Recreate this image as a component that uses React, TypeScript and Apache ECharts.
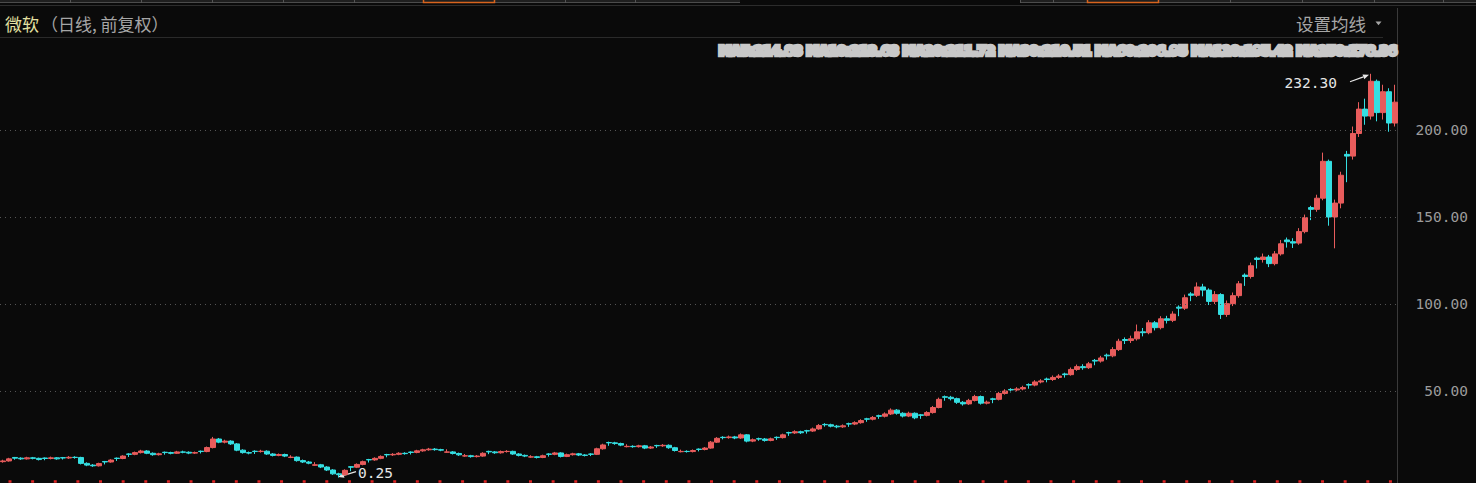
import React, { useEffect, useRef } from "react";
import * as echarts from "echarts";

const candles: number[][] = [
  [9.4, 9.8, 8.8, 10.5], [9.8, 11.0, 9.4, 11.6], [11.8, 11.4, 10.5, 12.1], [11.4, 11.0, 10.4, 11.9], [11.0, 11.6, 10.6, 12.2],
  [11.6, 11.3, 10.7, 12.1], [11.3, 10.6, 10.1, 11.7], [11.5, 11.2, 10.2, 11.8], [11.2, 11.6, 10.7, 12.3], [11.6, 11.0, 10.5, 12.0],
  [11.7, 11.5, 10.6, 12.1], [11.5, 11.9, 11.0, 12.6], [11.9, 11.8, 11.1, 12.5], [11.8, 8.4, 7.8, 12.2], [8.4, 7.4, 6.8, 9.0],
  [7.4, 7.0, 6.4, 8.0], [7.0, 8.3, 6.6, 8.8], [9.5, 9.2, 7.8, 9.8], [9.2, 10.3, 8.8, 10.8], [11.4, 11.2, 9.8, 11.8],
  [11.2, 12.6, 10.8, 13.1], [13.8, 13.6, 12.1, 14.2], [13.6, 14.6, 13.1, 15.2], [14.6, 15.5, 14.1, 16.2], [15.5, 14.2, 13.7, 16.0],
  [14.2, 13.4, 12.8, 14.7], [13.4, 13.9, 12.9, 14.5], [14.8, 14.6, 13.4, 15.2], [14.6, 14.2, 13.6, 15.1], [14.2, 15.0, 13.8, 15.6],
  [15.0, 14.8, 14.2, 15.7], [14.8, 14.3, 13.7, 15.3], [14.3, 14.6, 13.8, 15.2], [15.4, 15.2, 14.1, 15.8], [15.2, 17.5, 14.8, 18.1],
  [17.5, 22.4, 17.0, 23.6], [22.4, 20.6, 20.0, 23.0], [20.6, 21.2, 19.9, 22.0], [21.2, 19.6, 19.0, 21.7], [19.6, 16.0, 15.4, 20.1],
  [16.0, 14.6, 14.0, 16.5], [14.6, 14.3, 13.6, 15.2], [15.4, 15.2, 13.8, 15.9], [15.2, 15.4, 14.6, 16.2], [15.4, 13.8, 13.3, 15.9],
  [13.8, 13.0, 12.4, 14.3], [13.0, 13.5, 12.5, 14.1], [13.5, 12.6, 12.0, 14.0], [11.8, 12.0, 11.4, 13.1], [12.0, 10.0, 9.4, 12.4],
  [10.0, 9.2, 8.6, 10.6], [9.2, 8.5, 7.9, 9.8], [7.3, 7.6, 7.0, 9.1], [7.6, 6.3, 5.7, 8.1], [6.3, 4.6, 4.0, 6.8],
  [4.6, 2.4, 1.8, 5.1], [2.4, 1.9, 0.25, 3.0], [1.9, 4.4, 1.4, 5.0], [6.5, 6.2, 3.9, 6.8], [6.2, 7.8, 5.7, 8.4],
  [7.8, 9.4, 7.3, 10.0], [10.6, 10.4, 8.9, 11.0], [10.4, 11.3, 9.9, 11.9], [11.3, 12.4, 10.8, 13.0], [13.5, 13.3, 11.9, 13.9],
  [13.3, 13.6, 12.7, 14.3], [13.6, 14.2, 13.1, 14.8], [14.2, 14.0, 13.4, 14.8], [14.9, 14.7, 13.5, 15.3], [14.7, 15.6, 14.2, 16.2],
  [15.6, 16.2, 15.1, 16.8], [16.2, 16.6, 15.7, 17.3], [16.6, 16.3, 15.7, 17.2], [16.3, 16.0, 15.4, 16.8], [14.8, 15.0, 14.5, 16.5],
  [15.0, 14.1, 13.5, 15.5], [14.1, 13.3, 12.7, 14.6], [12.6, 12.8, 12.2, 13.8], [12.8, 12.3, 11.7, 13.3], [12.3, 12.6, 11.8, 13.2],
  [12.6, 14.2, 12.2, 14.8], [15.3, 15.0, 13.7, 15.7], [15.0, 14.5, 13.9, 15.5], [14.5, 15.2, 14.0, 15.8], [15.2, 15.3, 14.6, 16.0],
  [15.3, 13.8, 13.3, 15.7], [13.8, 13.0, 12.4, 14.3], [13.0, 12.6, 12.0, 13.5], [12.0, 12.2, 11.6, 13.1], [12.2, 11.8, 11.2, 12.7],
  [11.8, 12.8, 11.4, 13.4], [13.8, 13.6, 12.3, 14.2], [13.6, 14.4, 13.1, 15.0], [14.4, 12.4, 11.8, 14.8], [12.4, 13.4, 12.0, 14.0],
  [13.4, 13.9, 12.9, 14.5], [13.9, 13.2, 12.6, 14.4], [13.2, 13.0, 12.4, 13.7], [13.8, 13.6, 12.6, 14.2], [13.6, 16.8, 13.2, 17.4],
  [16.8, 19.0, 16.3, 19.7], [20.4, 20.2, 18.5, 20.9], [20.2, 19.8, 19.1, 20.8], [19.8, 18.9, 18.3, 20.3], [18.0, 18.2, 17.6, 19.4],
  [18.2, 18.0, 17.4, 18.8], [18.0, 18.5, 17.5, 19.1], [18.5, 17.2, 16.6, 19.0], [17.2, 17.8, 16.7, 18.4], [18.7, 18.5, 17.3, 19.1],
  [18.5, 18.8, 17.9, 19.5], [18.8, 17.4, 16.8, 19.3], [17.4, 15.8, 15.2, 17.9], [15.1, 15.3, 14.7, 16.3], [15.3, 15.2, 14.6, 15.9],
  [15.2, 15.8, 14.7, 16.4], [16.6, 16.4, 15.3, 17.0], [16.4, 17.2, 15.9, 17.8], [17.2, 20.6, 16.8, 21.3], [20.6, 22.8, 20.1, 23.5],
  [23.4, 23.2, 22.2, 24.0], [23.2, 23.6, 22.6, 24.4], [23.6, 23.0, 22.3, 24.2], [23.0, 24.8, 22.5, 25.6], [24.8, 21.2, 20.5, 25.2],
  [21.2, 22.0, 20.6, 22.7], [22.6, 22.4, 21.4, 23.2], [22.4, 21.6, 20.9, 23.0], [21.6, 22.5, 21.1, 23.2], [23.4, 23.2, 21.9, 23.9],
  [23.2, 24.8, 22.7, 25.5], [26.1, 25.9, 24.2, 26.6], [25.9, 26.6, 25.3, 27.4], [26.6, 26.0, 25.3, 27.2], [27.2, 27.0, 25.5, 27.7],
  [27.0, 28.2, 26.5, 29.0], [28.2, 30.2, 27.7, 31.0], [30.8, 30.6, 29.5, 31.5], [30.6, 29.8, 29.1, 31.2], [29.8, 29.4, 28.6, 30.5],
  [29.4, 30.0, 28.8, 30.8], [31.2, 31.0, 29.4, 31.8], [31.0, 31.8, 30.4, 32.6], [31.8, 33.0, 31.2, 33.8], [34.0, 33.8, 32.3, 34.6],
  [33.8, 34.8, 33.1, 35.6], [35.8, 35.5, 34.0, 36.4], [35.5, 36.8, 34.8, 37.7], [36.8, 39.0, 36.2, 40.0], [39.0, 37.2, 36.4, 39.6],
  [37.2, 35.6, 34.8, 37.8], [35.6, 37.2, 35.0, 38.1], [37.2, 34.6, 33.8, 37.7], [36.3, 36.0, 34.0, 36.8], [36.0, 37.6, 35.4, 38.4],
  [37.6, 40.5, 37.0, 41.4], [40.5, 45.2, 40.0, 46.2], [46.7, 46.4, 44.4, 47.4], [46.4, 45.6, 44.6, 47.2], [45.6, 43.5, 42.6, 46.2],
  [43.5, 42.6, 41.6, 44.2], [42.6, 44.6, 42.0, 45.5], [44.6, 46.8, 44.0, 47.8], [46.8, 43.0, 42.2, 47.4], [43.0, 43.6, 42.3, 44.5],
  [45.5, 45.2, 43.0, 46.1], [45.2, 48.6, 44.6, 49.5], [48.6, 50.0, 47.9, 51.0], [50.9, 50.6, 49.2, 51.6], [50.6, 51.2, 49.8, 52.2],
  [51.2, 52.0, 50.4, 53.0], [53.7, 53.4, 51.3, 54.4], [53.4, 55.2, 52.7, 56.2], [55.2, 55.8, 54.4, 56.8], [56.9, 56.6, 55.0, 57.7],
  [56.6, 57.8, 55.8, 58.9], [57.8, 58.6, 56.9, 59.7], [59.8, 59.4, 57.7, 60.5], [59.4, 62.4, 58.8, 63.5], [62.4, 64.0, 61.6, 65.2],
  [64.0, 63.4, 62.2, 65.4], [63.4, 65.6, 62.7, 66.7], [67.6, 67.2, 64.8, 68.4], [67.2, 69.0, 66.3, 70.2], [70.6, 70.2, 68.0, 71.5],
  [70.2, 73.8, 69.4, 75.2], [73.8, 78.6, 73.0, 80.0], [79.6, 79.0, 77.0, 80.8], [79.0, 80.0, 77.6, 81.8], [80.0, 84.0, 79.0, 88.2],
  [84.0, 83.5, 81.4, 86.2], [83.5, 89.2, 82.6, 90.7], [89.2, 86.4, 84.8, 90.2], [86.4, 91.5, 85.4, 93.0], [91.5, 90.6, 88.8, 93.2],
  [90.6, 94.2, 89.6, 95.8], [98.2, 97.6, 93.0, 99.2], [97.6, 103.6, 96.6, 105.4], [105.8, 105.0, 101.6, 106.8], [105.0, 109.8, 104.0, 112.4],
  [109.8, 108.0, 104.4, 111.6], [108.0, 101.5, 99.4, 109.0], [101.5, 105.4, 100.0, 107.4], [105.4, 94.0, 91.4, 106.2], [94.0, 100.2, 92.6, 102.0],
  [100.2, 104.8, 98.8, 106.6], [104.8, 111.6, 103.6, 113.2], [116.6, 115.8, 110.4, 117.6], [115.8, 122.0, 114.6, 123.8], [126.4, 125.6, 120.4, 127.2],
  [125.6, 127.0, 123.8, 129.0], [127.0, 123.2, 121.2, 128.2], [123.2, 128.8, 122.2, 130.4], [128.8, 134.6, 127.8, 136.8], [136.8, 135.8, 132.4, 138.2],
  [135.8, 135.0, 132.2, 137.8], [135.0, 141.6, 134.0, 143.6], [141.6, 149.6, 140.6, 151.4], [155.4, 154.4, 148.2, 156.4], [154.4, 160.8, 153.0, 162.8],
  [160.8, 182.0, 159.6, 187.0], [182.0, 150.0, 145.0, 183.0], [150.0, 158.0, 132.0, 160.0], [158.0, 174.0, 155.0, 176.0], [186.0, 185.0, 170.0, 188.0],
  [185.0, 198.0, 183.0, 202.0], [198.0, 212.0, 196.0, 216.0], [212.0, 208.0, 203.0, 218.0], [208.0, 228.0, 206.0, 232.3], [228.0, 210.0, 205.0, 229.0],
  [210.0, 222.0, 206.0, 226.0], [222.0, 204.0, 199.0, 224.0], [204.0, 216.0, 202.0, 226.0],
];

const categories = candles.map((_, i) => `K${i + 1}`);
const yTicks = [50, 100, 150, 200];
const yMin = 0;
const yMax = 250;
const yInterval = 50;

const stockName = "微软";
const periodNote = "（日线, 前复权）";
const maButton = "设置均线";
const maLine = "MA5:214.83 MA10:213.63 MA20:211.72 MA30:210.51 MA60:206.95 MA120:195.42 MA250:178.36";

const upColor = "#e85c5c";
const downColor = "#35dfe2";
const bg = "#0a0a0a";
const monoFont = "DejaVu Sans Mono";
const cjkFont = "Noto Sans CJK SC";

function arrow(tail: number[], tip: number[], color: string) {
  const dx = tip[0] - tail[0];
  const dy = tip[1] - tail[1];
  const len = Math.hypot(dx, dy) || 1;
  const ux = dx / len;
  const uy = dy / len;
  const hl = 6;
  const hw = 2.6;
  const bx = tip[0] - ux * hl;
  const by = tip[1] - uy * hl;
  return [
    {
      type: "line",
      silent: true,
      shape: { x1: tail[0], y1: tail[1], x2: bx, y2: by },
      style: { stroke: color, lineWidth: 1.2 },
    },
    {
      type: "polygon",
      silent: true,
      shape: { points: [[tip[0], tip[1]], [bx - uy * hw, by + ux * hw], [bx + uy * hw, by - ux * hw]] },
      style: { fill: color },
    },
  ];
}

export default function App() {
  const ref = useRef<HTMLDivElement>(null);

  useEffect(() => {
    document.body.style.margin = "0";
    document.body.style.background = bg;
    if (!ref.current) return;
    const chart = echarts.init(ref.current, null, { renderer: "svg" });

    chart.setOption({
      animation: false,
      backgroundColor: bg,
      grid: { left: 0, right: 78, top: 43, bottom: 5 },
      xAxis: { type: "category", data: categories, show: false, boundaryGap: true },
      yAxis: {
        type: "value",
        position: "right",
        min: yMin,
        max: yMax,
        interval: yInterval,
        axisLine: { show: false },
        axisTick: { show: false },
        splitLine: { show: false },
        axisLabel: {
          show: true,
          showMinLabel: false,
          showMaxLabel: false,
          align: "right",
          margin: 70,
          color: "#9c9c9c",
          fontFamily: monoFont,
          fontSize: 14.5,
          formatter: (v: number) => v.toFixed(2),
        },
      },
      series: [
        {
          type: "candlestick",
          data: candles,
          barWidth: 5,
          itemStyle: {
            color: upColor,
            color0: downColor,
            borderColor: upColor,
            borderColor0: downColor,
            borderWidth: 1,
          },
          markLine: {
            silent: true,
            symbol: ["none", "none"],
            label: { show: false },
            lineStyle: { color: "#555555", type: [1, 4], width: 1 },
            data: yTicks.map((v) => ({ yAxis: v })),
          },
        },
      ],
    });

    // locate extreme points through the chart's own scales
    let hiIdx = 0;
    let loIdx = 0;
    candles.forEach((c, i) => {
      if (c[3] > candles[hiIdx][3]) hiIdx = i;
      if (c[2] < candles[loIdx][2]) loIdx = i;
    });
    const hiVal = candles[hiIdx][3];
    const loVal = candles[loIdx][2];
    const hp = chart.convertToPixel({ seriesIndex: 0 }, [hiIdx, hiVal]) as number[];
    const lp = chart.convertToPixel({ seriesIndex: 0 }, [loIdx, loVal]) as number[];

    const W = 1476;
    const tabSepsLeft = [70, 141, 212, 283, 354, 565, 635];
    const tabSepsRight = [1020, 1053, 1230, 1302, 1374, 1443];
    const graphic: any[] = [];

    // top tab strip
    graphic.push({ type: "rect", silent: true, shape: { x: 0, y: 0, width: 740, height: 3 }, style: { fill: "#1f1f1f" } });
    graphic.push({ type: "rect", silent: true, shape: { x: 1020, y: 0, width: W - 1020, height: 3 }, style: { fill: "#1f1f1f" } });
    graphic.push({ type: "line", silent: true, shape: { x1: 0, y1: 2.5, x2: 740, y2: 2.5 }, style: { stroke: "#4c4c4c", lineWidth: 1 } });
    graphic.push({ type: "line", silent: true, shape: { x1: 1020, y1: 2.5, x2: W, y2: 2.5 }, style: { stroke: "#4c4c4c", lineWidth: 1 } });
    [...tabSepsLeft, ...tabSepsRight].forEach((x) =>
      graphic.push({ type: "line", silent: true, shape: { x1: x + 0.5, y1: 0, x2: x + 0.5, y2: 3 }, style: { stroke: "#555555", lineWidth: 1 } })
    );
    [[423, 494], [1087, 1158]].forEach(([a, b]) =>
      graphic.push({
        type: "rect",
        silent: true,
        shape: { x: a + 0.5, y: -2, width: b - a, height: 4.5 },
        style: { fill: "none", stroke: "#d8641e", lineWidth: 1.5 },
      })
    );
    graphic.push({ type: "line", silent: true, shape: { x1: 0, y1: 5.5, x2: W, y2: 5.5 }, style: { stroke: "#2c2c2c", lineWidth: 1 } });

    // header
    graphic.push({
      type: "text",
      silent: true,
      x: 5,
      y: 23,
      style: { text: stockName, fill: "#e4e0a2", font: `17px "${cjkFont}"`, textVerticalAlign: "middle" },
    });
    graphic.push({
      type: "text",
      silent: true,
      x: 41,
      y: 23,
      style: { text: periodNote, fill: "#a6a6a6", font: `17px "${cjkFont}"`, textVerticalAlign: "middle" },
    });
    graphic.push({
      type: "text",
      silent: true,
      x: 1296,
      y: 23,
      style: { text: maButton, fill: "#a6a6a6", font: `17.5px "${cjkFont}"`, textVerticalAlign: "middle" },
    });
    graphic.push({
      type: "polygon",
      silent: true,
      shape: { points: [[1375.5, 21.5], [1381.5, 21.5], [1378.5, 25.2]] },
      style: { fill: "#a6a6a6" },
    });
    graphic.push({ type: "line", silent: true, shape: { x1: 0, y1: 37.5, x2: 1383, y2: 37.5 }, style: { stroke: "#2a2a2a", lineWidth: 1 } });
    graphic.push({ type: "line", silent: true, shape: { x1: 1397.5, y1: 8, x2: 1397.5, y2: 483 }, style: { stroke: "#3a3a3a", lineWidth: 1 } });

    // moving-average readout line
    graphic.push({
      type: "text",
      silent: true,
      x: 1397,
      y: 50.5,
      style: {
        text: maLine,
        fill: "#c8c8c8",
        font: `bold 12.4px "DejaVu Sans"`,
        textAlign: "right",
        textVerticalAlign: "middle",
        stroke: "#c8c8c8",
        lineWidth: 4.5,
      },
    });

    // bottom red dotted marker line
    graphic.push({
      type: "line",
      silent: true,
      shape: { x1: 8.5, y1: 481.5, x2: 1398, y2: 481.5 },
      style: { stroke: "#e02424", lineWidth: 2.5, lineDash: [3, 19.63] },
    });

    // extreme annotations
    const hiTip = [hp[0] - 2, hp[1] + 1];
    const hiTail = [hp[0] - 21, hp[1] + 8];
    graphic.push(...arrow(hiTail, hiTip, "#e6e6e6"));
    graphic.push({
      type: "text",
      silent: true,
      x: hp[0] - 34,
      y: hp[1] + 9,
      style: { text: hiVal.toFixed(2), fill: "#e6e6e6", font: `14.5px "${monoFont}"`, textAlign: "right", textVerticalAlign: "middle" },
    });
    const loTip = [lp[0] - 1, lp[1] - 0.5];
    const loTail = [lp[0] + 17, lp[1] - 6];
    graphic.push(...arrow(loTail, loTip, "#e6e6e6"));
    graphic.push({
      type: "text",
      silent: true,
      x: lp[0] + 19,
      y: lp[1] - 5,
      style: { text: loVal.toFixed(2), fill: "#e6e6e6", font: `14.5px "${monoFont}"`, textAlign: "left", textVerticalAlign: "middle" },
    });

    chart.setOption({ graphic });

    return () => chart.dispose();
  }, []);

  return <div ref={ref} style={{ width: 1476, height: 483, background: bg }} />;
}
